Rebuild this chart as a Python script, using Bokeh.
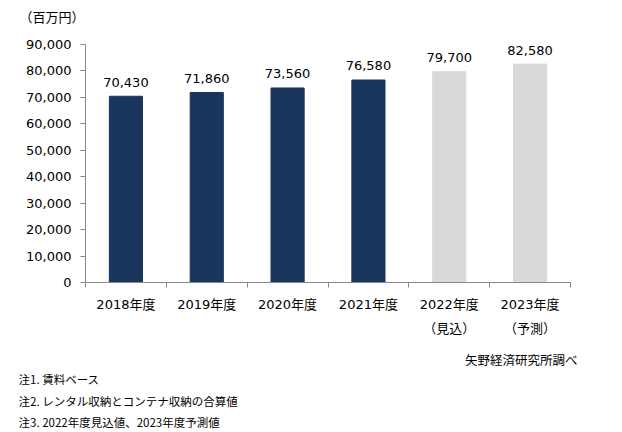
import numpy as np
from bokeh.plotting import figure
from bokeh.models import (ColumnDataSource, FixedTicker, NumeralTickFormatter,
                          Range1d, LabelSet, Label, LinearAxis)
from bokeh.core.properties import value
from bokeh.embed import file_html
from bokeh.resources import INLINE

# ---- data ----
categories = ["2018年度", "2019年度", "2020年度", "2021年度", "2022年度", "2023年度"]
sub_labels = ["", "", "", "", "（見込）", "（予測）"]
values = [70430, 71860, 73560, 76580, 79700, 82580]
bar_colors = ["#1B365D", "#1B365D", "#1B365D", "#1B365D", "#D9D9D9", "#D9D9D9"]
y_ticks = [0, 10000, 20000, 30000, 40000, 50000, 60000, 70000, 80000, 90000]
unit_label = "（百万円）"
source_label = "矢野経済研究所調べ"
notes = ["注1. 賃料ベース",
         "注2. レンタル収納とコンテナ収納の合算値",
         "注3. 2022年度見込値、2023年度予測値"]

FONT = "'DejaVu Sans', 'Noto Sans CJK JP', sans-serif"
NFONT = "DejaVu Sans"
JFONT = "Noto Sans CJK JP"

W, H = 622, 432
# target plot-area in canvas pixels
PL, PR, PT, PB = 85, 570, 44, 282
n = len(categories)
y_max = y_ticks[-1]
xs = (PR - PL) / n          # px per category
ys = (PB - PT) / y_max      # px per unit
x_range = Range1d(-PL / xs, n + (W - PR) / xs)
y_range = Range1d(-(H - PB) / ys, y_max + PT / ys)

centers = np.arange(n) + 0.5
bounds = list(np.arange(n + 1).astype(float))

src = ColumnDataSource(dict(
    x=centers, top=values, color=bar_colors,
    lbl=[f"{v:,}" for v in values],
    sub=sub_labels, zero=[0] * n,
))

p = figure(width=W, height=H, output_backend="svg", toolbar_location=None,
           x_range=x_range, y_range=y_range,
           x_axis_location=None, y_axis_location=None,
           min_border=0)
p.title.visible = False
p.outline_line_color = None
p.grid.visible = False
p.background_fill_color = "white"
p.border_fill_color = "white"

p.vbar(x="x", top="top", width=0.41, color="color", source=src)

AX = "#888888"
# y axis
ya = LinearAxis(fixed_location=0, bounds=(0, y_max))
ya.ticker = FixedTicker(ticks=y_ticks, minor_ticks=[])
ya.formatter = NumeralTickFormatter(format="0,0")
ya.axis_line_color = AX
ya.major_tick_line_color = AX
ya.major_tick_out = 5
ya.major_tick_in = 0
ya.minor_tick_line_color = None
ya.major_label_standoff = 9
ya.major_label_text_font = FONT
ya.major_label_text_font_size = "13px"
ya.major_label_text_color = "#000000"
p.add_layout(ya, "left")

# x axis
xa = LinearAxis(fixed_location=0, bounds=(0, n))
xa.ticker = FixedTicker(ticks=list(centers), minor_ticks=bounds)
xa.major_label_overrides = {float(c): cat for c, cat in zip(centers, categories)}
xa.axis_line_color = AX
xa.major_tick_out = 0
xa.major_tick_in = 0
xa.minor_tick_line_color = AX
xa.minor_tick_out = 5
xa.minor_tick_in = 0
xa.major_label_standoff = 9
xa.major_label_text_font = FONT
xa.major_label_text_font_size = "13px"
xa.major_label_text_color = "#000000"
p.add_layout(xa, "below")

# value labels
p.add_layout(LabelSet(x="x", y="top", text="lbl", source=src, y_offset=14,
                      text_align="center", text_baseline="middle",
                      text_font=value(NFONT), text_font_size="13px",
                      text_color="#000000"))

# second line of x labels
p.add_layout(LabelSet(x="x", y="zero", text="sub", source=src, y_offset=-45,
                      text_align="center", text_baseline="middle",
                      text_font=value(JFONT), text_font_size="13px",
                      text_color="#000000"))

# unit label (top-left)
p.add_layout(Label(x=0, y=0, x_offset=-66, y_offset=266, text=unit_label,
                   text_align="left", text_baseline="middle",
                   text_font=JFONT, text_font_size="13px", text_color="#000000"))

# source label
p.add_layout(Label(x=0, y=0, x_offset=492, y_offset=-77, text=source_label,
                   text_align="right", text_baseline="middle",
                   text_font=JFONT, text_font_size="12.5px", text_color="#000000"))

# notes
note_offsets = [-96, -118, -139]
for t, yo in zip(notes, note_offsets):
    p.add_layout(Label(x=0, y=0, x_offset=-67, y_offset=yo, text=t,
                       text_align="left", text_baseline="middle",
                       text_font=JFONT, text_font_size="11.5px", text_color="#000000"))

open("out.html", "w").write(file_html(p, INLINE))
